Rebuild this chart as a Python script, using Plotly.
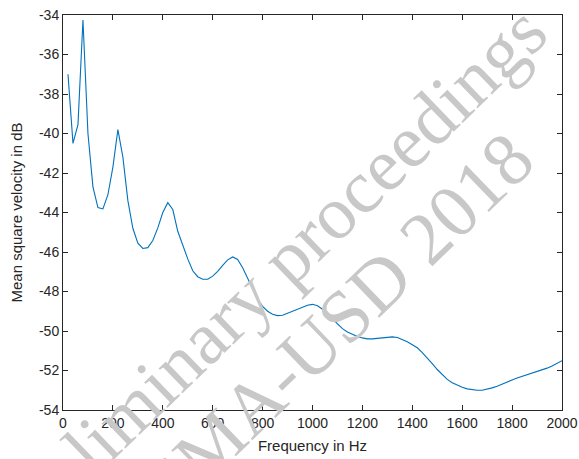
import plotly.graph_objects as go

freq_hz = [20, 40, 60, 80, 100, 120, 140, 160, 180, 200, 220, 240, 260, 280, 300,
           320, 340, 360, 380, 400, 420, 440, 460, 480, 500, 520, 540, 560, 580, 600,
           620, 640, 660, 680, 700, 720, 740, 760, 780, 800, 820, 840, 860, 880, 900,
           920, 940, 960, 980, 1000, 1020, 1040, 1060, 1080, 1100, 1120, 1140, 1160,
           1180, 1200, 1220, 1240, 1260, 1280, 1300, 1320, 1340, 1360, 1380, 1400,
           1420, 1440, 1460, 1480, 1500, 1520, 1540, 1560, 1580, 1600, 1620, 1640,
           1660, 1680, 1700, 1720, 1740, 1760, 1780, 1800, 1820, 1840, 1860, 1880,
           1900, 1920, 1940, 1960, 1980, 2000]
velocity_db = [-37.0, -40.5, -39.55, -34.25, -40.0, -42.7, -43.75, -43.82, -43.1, -41.7,
               -39.8, -41.2, -43.4, -44.8, -45.55, -45.82, -45.78, -45.42, -44.78, -44.0,
               -43.5, -43.85, -44.95, -45.7, -46.35, -46.95, -47.25, -47.38, -47.38, -47.22,
               -46.98, -46.68, -46.4, -46.25, -46.38, -46.8, -47.35, -47.9, -48.38, -48.75,
               -49.0, -49.15, -49.22, -49.2, -49.1, -49.0, -48.92, -48.8, -48.7, -48.65,
               -48.72, -48.9, -49.15, -49.42, -49.65, -49.88, -50.05, -50.18, -50.28, -50.35,
               -50.4, -50.4, -50.38, -50.35, -50.32, -50.3, -50.33, -50.42, -50.55, -50.7,
               -50.85, -51.1, -51.35, -51.65, -51.95, -52.2, -52.45, -52.62, -52.75, -52.85,
               -52.93, -52.97, -53.0, -53.0, -52.95, -52.88, -52.8, -52.68, -52.57, -52.48,
               -52.38, -52.3, -52.22, -52.14, -52.06, -51.97, -51.88, -51.77, -51.65, -51.5]

x_ticks = [0, 200, 400, 600, 800, 1000, 1200, 1400, 1600, 1800, 2000]
y_ticks = [-54, -52, -50, -48, -46, -44, -42, -40, -38, -36, -34]
y_tick_labels = [str(v) for v in y_ticks]

watermark_lines = ["Preliminary proceedings", "ISMA-USD 2018"]

axis_color = "#262626"
font_family = "Liberation Sans, Arial, sans-serif"

fig = go.Figure()
fig.add_trace(go.Scatter(x=freq_hz, y=velocity_db, mode="lines",
                         line=dict(color="#0072BD", width=1.1), showlegend=False))

common = dict(showgrid=False, zeroline=False, showline=True, linecolor=axis_color,
              linewidth=1, ticks="inside", ticklen=5, tickcolor=axis_color,
              mirror="allticks", automargin=False,
              tickfont=dict(family=font_family, size=14, color=axis_color))

fig.update_xaxes(range=[0, 2000], tickvals=x_ticks,
                 title=dict(text="Frequency in Hz", standoff=10,
                            font=dict(family=font_family, size=15, color=axis_color)),
                 **common)
fig.update_yaxes(range=[-54, -34], tickvals=y_ticks, ticktext=y_tick_labels,
                 title=dict(text="Mean square velocity in dB", standoff=12,
                            font=dict(family=font_family, size=15, color=axis_color)),
                 **common)

wm_font = dict(family="Liberation Serif, Times New Roman, serif", size=75, color="#c8c8c8")
for txt, px, py in zip(watermark_lines, [0.413, 0.533], [0.342, 0.2025]):
    fig.add_annotation(text=txt, xref="paper", yref="paper", x=px, y=py,
                       xanchor="center", yanchor="middle", showarrow=False,
                       textangle=-44, font=wm_font)

fig.update_layout(width=579, height=459, margin=dict(l=63, r=17, t=15, b=49),
                  plot_bgcolor="white", paper_bgcolor="white")

fig.write_html("out.html", config={"displayModeBar": False},
               post_script="document.body.style.margin='0';document.body.style.overflow='hidden';")
